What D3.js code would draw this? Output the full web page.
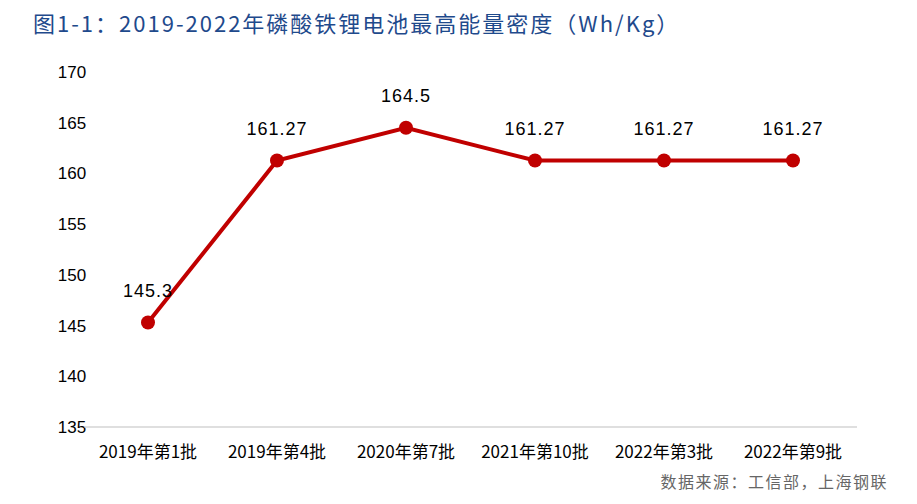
<!DOCTYPE html>
<html><head><meta charset="utf-8">
<script src="https://cdn.jsdelivr.net/npm/d3@7"></script>
<style>body{margin:0;background:#fff}</style>
</head><body>
<svg id="chart" width="917" height="504"></svg>
<script>
// 数据
const batches = ["2019年第1批", "2019年第4批", "2020年第7批", "2021年第10批", "2022年第3批", "2022年第9批"];
const density = [145.3, 161.27, 164.5, 161.27, 161.27, 161.27];
const labels = ["145.3", "161.27", "164.5", "161.27", "161.27", "161.27"];
const yTicks = [135, 140, 145, 150, 155, 160, 165, 170];

const svg = d3.select("#chart");
const font = "'Noto Sans CJK SC', sans-serif";

svg.append("text").attr("x", 33).attr("y", 32)
    .attr("font-family", font).attr("font-size", 22).attr("fill", "#1f4a8c")
    .attr("letter-spacing", 2)
    .text("图1-1：2019-2022年磷酸铁锂电池最高能量密度（Wh/Kg）");

const x = d3.scalePoint().domain(batches).range([148, 793]);
const y = d3.scaleLinear().domain([135, 170]).range([427, 72]);

// y 轴标签
svg.append("g").selectAll("text").data(yTicks).join("text")
    .attr("x", 72).attr("y", d => y(d)).attr("dy", "0.35em")
    .attr("text-anchor", "middle").attr("font-family", "Arial, 'Liberation Sans', sans-serif")
    .attr("font-size", 17).attr("fill", "#000").text(d => d);

// x 轴
svg.append("line").attr("x1", 84).attr("x2", 857).attr("y1", y(135)).attr("y2", y(135))
    .attr("stroke", "#bfbfbf").attr("stroke-width", 1);
svg.append("g").selectAll("text").data(batches).join("text")
    .attr("x", d => x(d)).attr("y", 458).attr("text-anchor", "middle")
    .attr("font-family", font).attr("font-size", 17).attr("fill", "#000").text(d => d);

// 折线
const line = d3.line().x((d, i) => x(batches[i])).y(d => y(d));
svg.append("path").datum(density).attr("d", line)
    .attr("fill", "none").attr("stroke", "#c00000").attr("stroke-width", 4);
svg.append("g").selectAll("circle").data(density).join("circle")
    .attr("cx", (d, i) => x(batches[i])).attr("cy", d => y(d)).attr("r", 7).attr("fill", "#c00000");
svg.append("g").selectAll("text").data(density).join("text")
    .attr("x", (d, i) => x(batches[i])).attr("y", d => y(d) - 26).attr("text-anchor", "middle")
    .attr("font-family", "Arial, 'Liberation Sans', sans-serif").attr("font-size", 18)
    .attr("letter-spacing", 1)
    .text((d, i) => labels[i]);

// 来源
svg.append("text").attr("x", 888).attr("y", 488).attr("text-anchor", "end")
    .attr("font-family", font).attr("font-size", 16).attr("fill", "#666")
    .attr("letter-spacing", 1.5)
    .text("数据来源：工信部，上海钢联");
</script>
</body></html>
